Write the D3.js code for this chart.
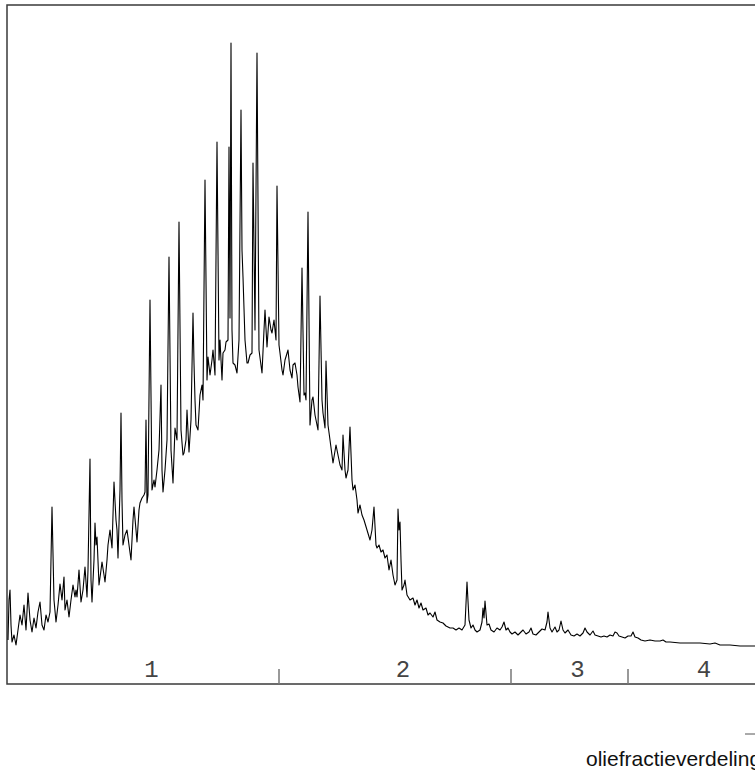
<!DOCTYPE html>
<html>
<head>
<meta charset="utf-8">
<script src="https://cdn.jsdelivr.net/npm/d3@7"></script>
<style>
  html, body { margin: 0; padding: 0; overflow: hidden; background: #fff; }
</style>
</head>
<body>
<div id="chart"></div>
<script>
  // scan number vs detector response
  var trace = [
    [0,44],[1,84],[2,94],[3,59],[4,42],[6,49],[8,39],[10,54],[12,69],[14,59],[16,79],[18,54],[20,91],
    [22,64],[24,52],[26,66],[28,56],[30,72],[32,82],[34,59],[36,54],[38,69],[40,62],[42,72],[44,177],
    [46,84],[48,62],[50,79],[52,100],[54,84],[56,107],[57,74],[59,84],[61,67],[63,84],[65,99],[67,87],
    [68,94],[69,87],[71,114],[73,82],[75,94],[77,117],[79,87],[80,114],[82,225],[83,104],[84,82],
    [86,124],[87,161],[88,139],[89,147],[91,99],[93,114],[94,122],[96,109],[97,102],[99,124],[100,139],
    [102,154],[104,136],[106,202],[108,164],[109,154],[110,126],[112,194],[113,271],[114,184],[115,139],
    [117,149],[119,154],[121,139],[123,124],[125,164],[126,177],[128,154],[129,142],[131,174],[132,181],
    [134,186],[136,189],[137,192],[138,264],[139,181],[140,189],[142,384],[144,194],[146,204],[147,197],
    [149,214],[151,234],[153,299],[154,214],[155,192],[157,214],[159,244],[161,427],[163,234],[165,201],
    [167,256],[169,244],[171,462],[173,254],[175,229],[176,231],[178,244],[179,274],[181,232],[183,264],
    [185,371],[186,321],[187,284],[188,259],[190,254],[192,289],[194,299],[195,284],[197,504],[199,304],
    [200,327],[202,309],[204,324],[205,334],[207,309],[209,542],[211,324],[212,344],[214,304],[215,331],
    [217,334],[218,342],[220,344],[221,537],[222,366],[223,641],[224,354],[225,321],[227,319],[229,311],
    [231,344],[233,574],[234,434],[235,407],[237,344],[239,321],[240,321],[242,329],[244,331],[245,521],
    [247,354],[249,631],[251,334],[254,311],[256,354],[257,374],[259,337],[261,367],[263,354],[264,351],
    [266,364],[268,344],[269,498],[271,339],[272,331],[274,314],[275,309],[277,324],[280,334],[282,314],
    [284,306],[285,319],[287,321],[289,309],[290,297],[292,282],[294,416],[296,289],[297,291],[298,284],
    [300,472],[302,259],[304,284],[305,287],[307,269],[308,264],[310,254],[312,388],[314,284],[315,271],
    [317,256],[318,323],[320,259],[322,244],[325,221],[328,239],[330,229],[332,219],[334,214],[335,249],
    [337,214],[338,206],[340,214],[342,257],[344,204],[345,194],[347,199],[349,184],[350,171],[352,179],
    [354,169],[356,164],[359,154],[362,144],[364,154],[366,177],[368,139],[369,136],[371,139],[373,132],
    [375,134],[377,126],[379,129],[381,114],[383,124],[385,109],[387,99],[389,104],[390,175],[391,154],
    [392,162],[393,124],[394,94],[396,99],[397,104],[399,89],[402,84],[405,86],[407,79],[409,84],[411,76],
    [413,81],[415,74],[418,76],[420,69],[422,71],[425,67],[427,72],[429,64],[432,62],[435,61],[438,58],
    [442,56],[445,56],[448,54],[451,56],[454,54],[457,59],[459,102],[461,64],[463,56],[465,59],[467,54],
    [469,52],[472,54],[474,62],[475,76],[476,66],[477,83],[479,59],[481,60],[483,54],[486,52],[489,56],
    [492,54],[494,57],[496,62],[498,54],[500,56],[502,52],[504,50],[507,52],[510,49],[512,51],[515,54],
    [518,50],[521,52],[523,56],[525,50],[528,49],[531,52],[534,55],[537,54],[539,62],[540,72],[542,56],
    [544,52],[547,57],[549,52],[551,54],[553,63],[555,54],[557,51],[560,54],[563,49],[566,48],[569,50],
    [572,48],[575,51],[577,56],[579,52],[582,49],[585,53],[587,49],[590,48],[593,47],[596,48],[599,47],
    [602,49],[605,48],[607,52],[609,51],[611,48],[614,47],[617,46],[620,48],[623,48],[625,52],[627,47],
    [630,46],[633,44],[637,43],[642,44],[647,43],[652,43],[655,44],[658,42],[662,42],[672,41],[682,41],
    [692,41],[702,40],[707,41],[712,39],[722,39],[732,38],[742,38],[750,38]
  ];

  // oil fraction boundaries (scan numbers) and their labels
  var fractionBounds = [0, 271, 503, 620, 756];
  var fractionLabels = ['1', '2', '3', '4'];
  var titleText = 'oliefractieverdeling';

  var width = 780, height = 772;

  var svg = d3.select('#chart').append('svg')
    .attr('width', width)
    .attr('height', height);

  var x = d3.scaleLinear().domain([0, 756]).range([8, 764]);
  var y = d3.scaleLinear().domain([0, 680]).range([684, 4]);

  svg.append('rect')
    .attr('x', 7)
    .attr('y', 5)
    .attr('width', x(756) - 7)
    .attr('height', y(0) - 5)
    .attr('fill', 'none')
    .attr('stroke', '#3a3a3a')
    .attr('stroke-width', 1.5);

  var line = d3.line()
    .x(function(d) { return x(d[0]); })
    .y(function(d) { return y(d[1]); });

  svg.append('path')
    .datum(trace)
    .attr('d', line)
    .attr('fill', 'none')
    .attr('stroke', '#000')
    .attr('stroke-width', 1.1)
    .attr('stroke-linejoin', 'round');

  // boundary ticks between fractions
  svg.selectAll('line.fraction-tick')
    .data(fractionBounds.slice(1, -1))
    .enter().append('line')
    .attr('class', 'fraction-tick')
    .attr('x1', function(d) { return x(d); })
    .attr('x2', function(d) { return x(d); })
    .attr('y1', y(0))
    .attr('y2', y(0) - 15)
    .attr('stroke', '#777')
    .attr('stroke-width', 1.5);

  svg.selectAll('text.fraction-label')
    .data(fractionLabels)
    .enter().append('text')
    .attr('class', 'fraction-label')
    .attr('x', function(d, i) { return (x(fractionBounds[i]) + x(fractionBounds[i + 1])) / 2 + 8; })
    .attr('y', 677)
    .attr('text-anchor', 'middle')
    .attr('font-family', 'Liberation Mono, monospace')
    .attr('font-size', 24)
    .attr('fill', '#444')
    .text(function(d) { return d; });

  // legend stub and title, cut off by the right edge
  svg.append('line')
    .attr('x1', 745)
    .attr('x2', 770)
    .attr('y1', 734)
    .attr('y2', 734)
    .attr('stroke', '#555')
    .attr('stroke-width', 1);

  svg.append('text')
    .attr('x', 586)
    .attr('y', 766)
    .attr('font-family', 'Liberation Sans, Arial, sans-serif')
    .attr('font-size', 21)
    .attr('fill', '#111')
    .text(titleText);
</script>
</body>
</html>
